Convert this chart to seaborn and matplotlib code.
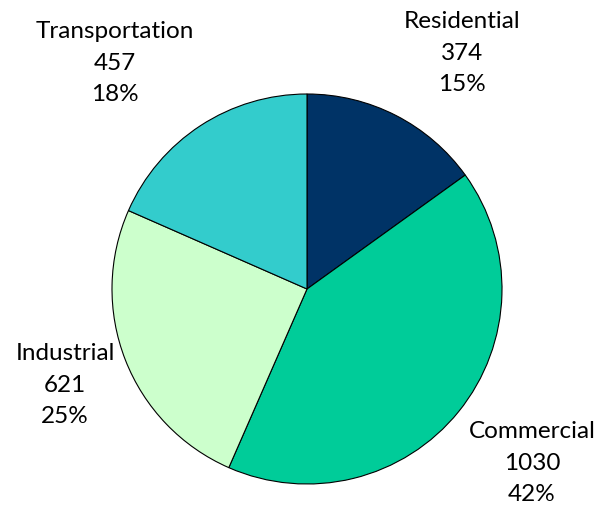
import matplotlib
matplotlib.use("Agg")
import matplotlib.pyplot as plt
import seaborn as sns

# data
sectors = ["Residential", "Commercial", "Industrial", "Transportation"]
values = [374, 1030, 621, 457]
percents = [15, 42, 25, 18]  # as printed on the chart
colors = ["#003366", "#00CC99", "#CCFFCC", "#33CCCC"]

# label anchor points (pixel coords, top-left origin) for each sector
label_px = {
    "Residential": (462, 53),
    "Commercial": (532, 463),
    "Industrial": (65, 385),
    "Transportation": (115, 63),
}

sns.set_theme(style="white")
plt.rcParams["font.family"] = ["Lato", "DejaVu Sans"]

W, H = 600, 512
fig = plt.figure(figsize=(W / 100, H / 100), dpi=100)
fig.patch.set_facecolor("white")

# pie centre at (307, 289) px, radius 195 px
cx, cy, r = 307, 289, 195
ax = fig.add_axes([(cx - r) / W, (H - cy - r) / H, 2 * r / W, 2 * r / H])

ax.pie(values, colors=colors, startangle=90, counterclock=False,
       wedgeprops=dict(edgecolor="black", linewidth=0.8))
ax.set_xlim(-1.0, 1.0)
ax.set_ylim(-1.0, 1.0)
ax.set_aspect("equal")
ax.axis("off")

for name, v, pct in zip(sectors, values, percents):
    px, py = label_px[name]
    fig.text(px / W, 1 - py / H, f"{name}\n{v}\n{pct}%",
             ha="center", va="center", fontsize=17.5, linespacing=1.62,
             color="black")

fig.savefig("out.png", dpi=100, facecolor="white")
